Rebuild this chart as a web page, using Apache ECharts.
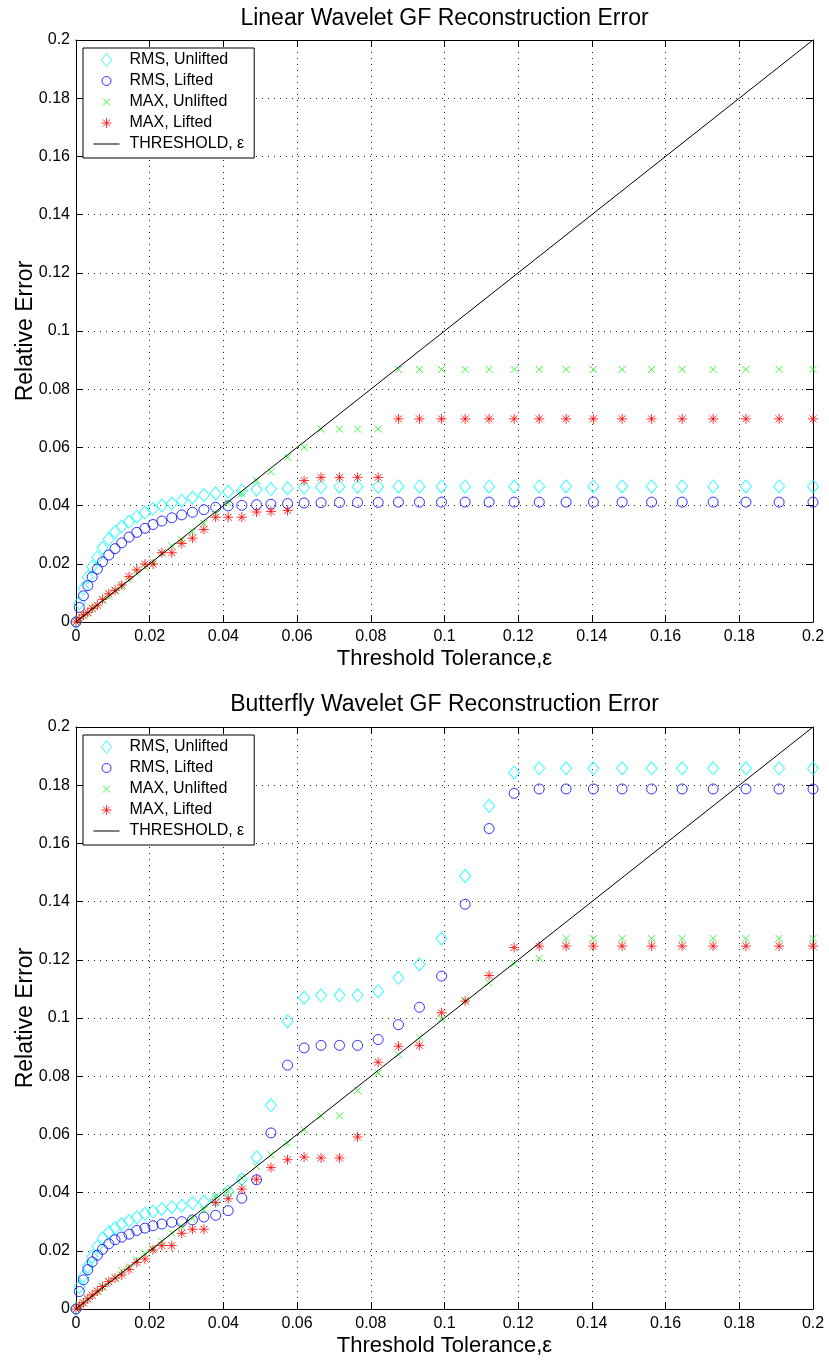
<!DOCTYPE html>
<html>
<head>
<meta charset="utf-8">
<script src="https://cdn.jsdelivr.net/npm/echarts@6/dist/echarts.min.js"></script>
<style>
  html, body { margin: 0; padding: 0; background: #fff; }
  #chart { width: 829px; height: 1362px; }
</style>
</head>
<body>
<div id="chart"></div>
<script>
// Threshold tolerance values (shared by both panels)
const eps = [0, 0.0009, 0.0020, 0.0032, 0.0044, 0.0058, 0.0072, 0.0089, 0.0106, 0.0124,
  0.0144, 0.0165, 0.0187, 0.0209, 0.0233, 0.0260, 0.0287, 0.0316, 0.0347, 0.0379,
  0.0413, 0.0450, 0.0490, 0.0529, 0.0574, 0.0619, 0.0665, 0.0715, 0.0764, 0.0820,
  0.0875, 0.0932, 0.0992, 0.1056, 0.1121, 0.1189, 0.1257, 0.1330, 0.1404, 0.1482,
  0.1562, 0.1645, 0.1729, 0.1818, 0.1908, 0.2000];

// Linear wavelet panel
const linRmsUnlifted = [0, 0.0065, 0.0115, 0.0155, 0.0190, 0.0222, 0.0255, 0.0285, 0.0310, 0.0328,
  0.0345, 0.0362, 0.0376, 0.0389, 0.0400, 0.0408, 0.0417, 0.0427, 0.0436, 0.0442,
  0.0448, 0.0452, 0.0455, 0.0457, 0.0460, 0.0462, 0.0464, 0.0465, 0.0465, 0.0465,
  0.0466, 0.0466, 0.0466, 0.0466, 0.0466, 0.0466, 0.0466, 0.0466, 0.0466, 0.0466,
  0.0466, 0.0466, 0.0466, 0.0466, 0.0466, 0.0466];
const linRmsLifted = [0, 0.0050, 0.0090, 0.0125, 0.0155, 0.0182, 0.0207, 0.0230, 0.0252, 0.0272,
  0.0292, 0.0308, 0.0322, 0.0335, 0.0347, 0.0358, 0.0368, 0.0377, 0.0386, 0.0394,
  0.0399, 0.0401, 0.0403, 0.0405, 0.0407, 0.0409, 0.0410, 0.0411, 0.0411, 0.0411,
  0.0412, 0.0412, 0.0412, 0.0412, 0.0412, 0.0412, 0.0412, 0.0412, 0.0412, 0.0412,
  0.0412, 0.0412, 0.0412, 0.0412, 0.0412, 0.0412];
const linMaxUnlifted = [0, 0.0009, 0.0021, 0.0031, 0.0046, 0.0057, 0.0074, 0.0088, 0.0107, 0.0121,
  0.0145, 0.0168, 0.0189, 0.0207, 0.0236, 0.0262, 0.0282, 0.0310, 0.0339, 0.0372,
  0.0410, 0.0442, 0.0486, 0.0517, 0.0566, 0.0600, 0.0663, 0.0663, 0.0663, 0.0663,
  0.0868, 0.0868, 0.0868, 0.0868, 0.0868, 0.0868, 0.0868, 0.0868, 0.0868, 0.0868,
  0.0868, 0.0868, 0.0868, 0.0868, 0.0868, 0.0868];
const linMaxLifted = [0, 0.0011, 0.0024, 0.0033, 0.0047, 0.0058, 0.0078, 0.0097, 0.0109, 0.0127,
  0.0156, 0.0179, 0.0199, 0.0199, 0.0238, 0.0238, 0.0270, 0.0288, 0.0318, 0.0360,
  0.0360, 0.0360, 0.0378, 0.0380, 0.0383, 0.0486, 0.0497, 0.0497, 0.0497, 0.0497,
  0.0698, 0.0698, 0.0698, 0.0698, 0.0698, 0.0698, 0.0698, 0.0698, 0.0698, 0.0698,
  0.0698, 0.0698, 0.0698, 0.0698, 0.0698, 0.0698];

// Butterfly wavelet panel
const bflyRmsUnlifted = [0, 0.0076, 0.0111, 0.0146, 0.0180, 0.0215, 0.0243, 0.0264, 0.0278, 0.0292,
  0.0303, 0.0315, 0.0327, 0.0335, 0.0344, 0.0350, 0.0355, 0.0364, 0.0369, 0.0375,
  0.0404, 0.0446, 0.0521, 0.0700, 0.0989, 0.1070, 0.1078, 0.1078, 0.1078, 0.1092,
  0.1138, 0.1184, 0.1273, 0.1488, 0.1729, 0.1844, 0.1858, 0.1858, 0.1858, 0.1858,
  0.1858, 0.1858, 0.1858, 0.1858, 0.1858, 0.1858];
const bflyRmsLifted = [0, 0.0060, 0.0100, 0.0135, 0.0162, 0.0185, 0.0205, 0.0224, 0.0238, 0.0247,
  0.0257, 0.0270, 0.0278, 0.0286, 0.0292, 0.0298, 0.0300, 0.0306, 0.0316, 0.0322,
  0.0338, 0.0381, 0.0444, 0.0605, 0.0838, 0.0897, 0.0906, 0.0906, 0.0906, 0.0926,
  0.0977, 0.1037, 0.1144, 0.1391, 0.1651, 0.1772, 0.1787, 0.1787, 0.1787, 0.1787,
  0.1787, 0.1787, 0.1787, 0.1787, 0.1787, 0.1787];
const bflyMaxUnlifted = [0, 0.0010, 0.0021, 0.0033, 0.0046, 0.0060, 0.0075, 0.0094, 0.0108, 0.0131,
  0.0145, 0.0169, 0.0191, 0.0208, 0.0232, 0.0261, 0.0283, 0.0312, 0.0341, 0.0387,
  0.0404, 0.0450, 0.0490, 0.0530, 0.0570, 0.0616, 0.0663, 0.0664, 0.0751, 0.0811,
  0.0874, 0.0932, 0.0997, 0.1060, 0.1121, 0.1187, 0.1205, 0.1273, 0.1273, 0.1273,
  0.1273, 0.1273, 0.1273, 0.1273, 0.1273, 0.1273];
const bflyMaxLifted = [0, 0.0010, 0.0021, 0.0035, 0.0048, 0.0062, 0.0077, 0.0094, 0.0106, 0.0117,
  0.0136, 0.0160, 0.0172, 0.0203, 0.0218, 0.0218, 0.0260, 0.0274, 0.0274, 0.0366,
  0.0379, 0.0412, 0.0446, 0.0486, 0.0513, 0.0522, 0.0519, 0.0519, 0.0591, 0.0848,
  0.0903, 0.0906, 0.1018, 0.1058, 0.1146, 0.1242, 0.1247, 0.1247, 0.1247, 0.1247,
  0.1247, 0.1247, 0.1247, 0.1247, 0.1247, 0.1247];

// Threshold reference line: relative error equal to the tolerance
const thresholdEnds = [0, 0.2];

// Axis tick labels
const tickLabels = ['0', '0.02', '0.04', '0.06', '0.08', '0.1', '0.12', '0.14', '0.16', '0.18', '0.2'];

const panelTitles = ['Linear Wavelet GF Reconstruction Error', 'Butterfly Wavelet GF Reconstruction Error'];
const seriesNames = ['RMS, Unlifted', 'RMS, Lifted', 'MAX, Unlifted', 'MAX, Lifted', 'THRESHOLD, ε'];

const FONT = '"Liberation Sans", Arial, Helvetica, sans-serif';
const colors = { rmsU: '#00ffff', rmsL: '#0000ff', maxU: '#00ff00', maxL: '#ff0000' };
const CLEAR = 'rgba(0,0,0,0)';

// Marker shapes (padded 14x14 boxes so legend icons keep their drawn size)
const ICON_DIAMOND = 'path://M0,0M14,14M7,0.5L12,7L7,13.5L2,7Z';
const ICON_CIRCLE = 'path://M0,0M14,14M7,2.5A4.5,4.5,0,1,1,7,11.5A4.5,4.5,0,1,1,7,2.5Z';
const ICON_CROSS = 'path://M0,0M14,14M3.5,3.5L10.5,10.5M10.5,3.5L3.5,10.5';
const ICON_STAR = 'path://M0,0M14,14M7,2L7,12M2,7L12,7M3.5,3.5L10.5,10.5M10.5,3.5L3.5,10.5';
const SYM_CROSS = 'path://M0,0L10,10M10,0L0,10';
const SYM_STAR = 'path://M5,0L5,10M0,5L10,5M1.5,1.5L8.5,8.5M8.5,1.5L1.5,8.5';

const grids = [
  { left: 76, top: 40, width: 737, height: 582 },
  { left: 76, top: 727, width: 737, height: 582 }
];

function pairs(ys) { return eps.map((x, i) => [x, ys[i]]); }

const xAxes = [], yAxes = [], series = [], titles = [], legends = [];

grids.forEach((g, gi) => {
  const base = { min: 0, max: 0.2, interval: 0.02, gridIndex: gi };
  xAxes.push(Object.assign({}, base, {
    type: 'value', position: 'bottom',
    name: 'Threshold Tolerance,ε', nameLocation: 'middle', nameGap: 26,
    nameMoveOverlap: false,
    nameTextStyle: { fontFamily: FONT, fontSize: 22, color: '#000' },
    axisLine: { show: true, onZero: false, lineStyle: { color: '#000', width: 1 } },
    axisTick: { show: true, inside: true, length: 7, lineStyle: { color: '#000' } },
    axisLabel: { show: true, margin: 7, showMinLabel: true, showMaxLabel: true,
      fontFamily: FONT, fontSize: 16, color: '#000',
      formatter: v => tickLabels[Math.round(v / 0.02)] },
    splitLine: { show: true, lineStyle: { color: '#222', width: 1, type: [1, 5] } }
  }));
  xAxes.push(Object.assign({}, base, {
    type: 'value', position: 'top',
    axisLine: { show: true, onZero: false, lineStyle: { color: '#000', width: 1 } },
    axisTick: { show: true, inside: true, length: 7, lineStyle: { color: '#000' } },
    axisLabel: { show: false }, splitLine: { show: false }
  }));
  yAxes.push(Object.assign({}, base, {
    type: 'value', position: 'left',
    name: 'Relative Error', nameLocation: 'middle', nameGap: 39,
    nameMoveOverlap: false,
    nameTextStyle: { fontFamily: FONT, fontSize: 23, color: '#000' },
    axisLine: { show: true, onZero: false, lineStyle: { color: '#000', width: 1 } },
    axisTick: { show: true, inside: true, length: 7, lineStyle: { color: '#000' } },
    axisLabel: { show: true, margin: 6, showMinLabel: true, showMaxLabel: true,
      fontFamily: FONT, fontSize: 16, color: '#000',
      formatter: v => tickLabels[Math.round(v / 0.02)] },
    splitLine: { show: true, lineStyle: { color: '#222', width: 1, type: [1, 5] } }
  }));
  yAxes.push(Object.assign({}, base, {
    type: 'value', position: 'right',
    axisLine: { show: true, onZero: false, lineStyle: { color: '#000', width: 1 } },
    axisTick: { show: true, inside: true, length: 7, lineStyle: { color: '#000' } },
    axisLabel: { show: false }, splitLine: { show: false }
  }));

  titles.push({
    text: panelTitles[gi], left: 444.5, top: gi === 0 ? 7 : 693, textAlign: 'center', padding: 0,
    textStyle: { fontFamily: FONT, fontSize: 23, fontWeight: 'normal', color: '#000' }
  });

  const sets = gi === 0
    ? [linRmsUnlifted, linRmsLifted, linMaxUnlifted, linMaxLifted]
    : [bflyRmsUnlifted, bflyRmsLifted, bflyMaxUnlifted, bflyMaxLifted];
  const xi = gi * 2, yi = gi * 2;
  const common = { type: 'scatter', xAxisIndex: xi, yAxisIndex: yi, silent: true, clip: false };
  series.push(Object.assign({}, common, {
    name: seriesNames[0], data: pairs(sets[0]), symbol: 'diamond', symbolSize: [11, 13],
    itemStyle: { color: CLEAR, borderColor: colors.rmsU, borderWidth: 1 }
  }));
  series.push(Object.assign({}, common, {
    name: seriesNames[1], data: pairs(sets[1]), symbol: 'circle', symbolSize: 10,
    itemStyle: { color: CLEAR, borderColor: colors.rmsL, borderWidth: 1 }
  }));
  series.push(Object.assign({}, common, {
    name: seriesNames[2], data: pairs(sets[2]), symbol: SYM_CROSS, symbolSize: 7,
    itemStyle: { color: CLEAR, borderColor: colors.maxU, borderWidth: 1 }
  }));
  series.push(Object.assign({}, common, {
    name: seriesNames[3], data: pairs(sets[3]), symbol: SYM_STAR, symbolSize: 10,
    itemStyle: { color: CLEAR, borderColor: colors.maxL, borderWidth: 1 }
  }));
  series.push({
    type: 'line', name: seriesNames[4], xAxisIndex: xi, yAxisIndex: yi, silent: true,
    data: thresholdEnds.map(v => [v, v]), symbol: 'none', z: 3,
    lineStyle: { color: '#000', width: 1 }, itemStyle: { color: '#000' }
  });

  legends.push({
    left: 83, top: gi === 0 ? 48 : 735, orient: 'vertical',
    padding: [4, 10, 6, 10], itemGap: 5, itemWidth: 26, itemHeight: 14,
    backgroundColor: '#fff', borderColor: '#000', borderWidth: 1, borderRadius: 0,
    selectedMode: false, z: 10,
    textStyle: { fontFamily: FONT, fontSize: 16, color: '#000', padding: [0, 0, 0, 5] },
    data: [
      { name: seriesNames[0], icon: ICON_DIAMOND, itemStyle: { color: CLEAR, borderColor: colors.rmsU, borderWidth: 1 } },
      { name: seriesNames[1], icon: ICON_CIRCLE, itemStyle: { color: CLEAR, borderColor: colors.rmsL, borderWidth: 1 } },
      { name: seriesNames[2], icon: ICON_CROSS, itemStyle: { color: CLEAR, borderColor: colors.maxU, borderWidth: 1 } },
      { name: seriesNames[3], icon: ICON_STAR, itemStyle: { color: CLEAR, borderColor: colors.maxL, borderWidth: 1 } },
      { name: seriesNames[4], lineStyle: { color: '#000', width: 1 },
        itemStyle: { color: CLEAR, borderColor: CLEAR, borderWidth: 0 } }
    ]
  });
});

const chart = echarts.init(document.getElementById('chart'), null, { renderer: 'canvas' });
chart.setOption({
  animation: false,
  backgroundColor: '#fff',
  title: titles,
  legend: legends,
  grid: grids.map(g => Object.assign({ outerBoundsMode: 'none', containLabel: false }, g)),
  xAxis: xAxes,
  yAxis: yAxes,
  series: series
});
</script>
</body>
</html>
